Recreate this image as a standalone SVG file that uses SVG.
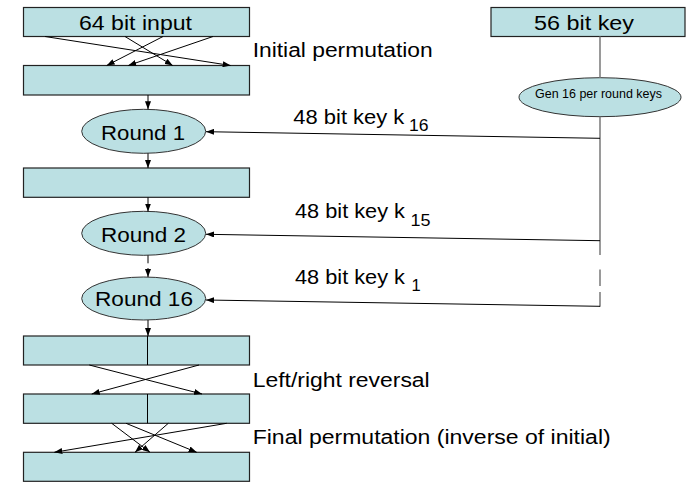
<svg xmlns="http://www.w3.org/2000/svg" width="686" height="482" viewBox="0 0 686 482">
<style>
.box{fill:#BBE0E3;stroke:#222;stroke-width:1.2}
.ell{fill:#BBE0E3;stroke:#333;stroke-width:1}
.t{font-family:"Liberation Sans",Arial,sans-serif;font-size:20px;fill:#000}
.ts{font-family:"Liberation Sans",Arial,sans-serif;font-size:16.5px;fill:#000}
.tg{font-family:"Liberation Sans",Arial,sans-serif;font-size:12px;fill:#000}
.ln{stroke:#000;stroke-width:1;fill:none}
.gl{stroke:#808080;stroke-width:1.6;fill:none}
</style>
<defs>
<marker id="ah" viewBox="0 0 8 6" refX="8" refY="3" markerWidth="8" markerHeight="6" markerUnits="userSpaceOnUse" orient="auto">
<path d="M0,0 L8,3 L0,6 z" fill="#000"/>
</marker>
</defs>

<g id="input">
<rect class="box" x="23.5" y="7.5" width="226" height="29"/>
<text class="t" x="79" y="29.5" textLength="113" lengthAdjust="spacingAndGlyphs">64 bit input</text>
</g>
<g id="ip">
<rect class="box" x="23.5" y="65.5" width="226" height="29.5"/>
</g>
<g id="round1">
<ellipse class="ell" cx="143.7" cy="131.3" rx="62" ry="22"/>
<text class="t" x="101" y="140" textLength="84" lengthAdjust="spacingAndGlyphs">Round 1</text>
</g>
<g id="mid">
<rect class="box" x="23.5" y="168" width="226" height="29.3"/>
</g>
<g id="round2">
<ellipse class="ell" cx="143.7" cy="233.3" rx="62" ry="22"/>
<text class="t" x="101" y="241.7" textLength="85" lengthAdjust="spacingAndGlyphs">Round 2</text>
</g>
<g id="round16">
<ellipse class="ell" cx="143.7" cy="298.5" rx="62" ry="21.5"/>
<text class="t" x="95" y="306" textLength="98" lengthAdjust="spacingAndGlyphs">Round 16</text>
</g>
<g id="lr1">
<rect class="box" x="23.5" y="336" width="226" height="29"/>
<line class="ln" x1="147.5" y1="336" x2="147.5" y2="365"/>
</g>
<g id="lr2">
<rect class="box" x="23.5" y="394" width="226" height="29.3"/>
<line class="ln" x1="147.5" y1="394" x2="147.5" y2="423.3"/>
</g>
<g id="output">
<rect class="box" x="23.5" y="452.3" width="226" height="29"/>
</g>
<g id="key">
<rect class="box" x="491" y="7.5" width="194" height="29"/>
<text class="t" x="534" y="29.5" textLength="100" lengthAdjust="spacingAndGlyphs">56 bit key</text>
</g>
<g id="gen">
<ellipse class="ell" cx="600" cy="97.2" rx="81" ry="19.5"/>
<text class="tg" x="535" y="97.5" textLength="127" lengthAdjust="spacingAndGlyphs">Gen 16 per round keys</text>
</g>

<g id="labels">
<text class="t" x="252.7" y="56.7" textLength="180" lengthAdjust="spacingAndGlyphs">Initial permutation</text>
<text class="t" x="252.7" y="386.7" textLength="177" lengthAdjust="spacingAndGlyphs">Left/right reversal</text>
<text class="t" x="252.7" y="444" textLength="358" lengthAdjust="spacingAndGlyphs">Final permutation (inverse of initial)</text>
<text class="t" x="293.3" y="124" textLength="111" lengthAdjust="spacingAndGlyphs">48 bit key k</text>
<text class="ts" x="409" y="131" textLength="19.5" lengthAdjust="spacingAndGlyphs">16</text>
<text class="t" x="295" y="218.3" textLength="110" lengthAdjust="spacingAndGlyphs">48 bit key k</text>
<text class="ts" x="410.5" y="225.5" textLength="20" lengthAdjust="spacingAndGlyphs">15</text>
<text class="t" x="295" y="284.3" textLength="110" lengthAdjust="spacingAndGlyphs">48 bit key k</text>
<text class="ts" x="411.5" y="291">1</text>
</g>

<g id="connectors">
<line class="ln" x1="45" y1="36.5" x2="230.7" y2="65.5" marker-end="url(#ah)"/>
<line class="ln" x1="125" y1="36.5" x2="172.7" y2="65.5" marker-end="url(#ah)"/>
<line class="ln" x1="163" y1="36.5" x2="106.7" y2="65.5" marker-end="url(#ah)"/>
<line class="ln" x1="213" y1="36.5" x2="128.3" y2="65.5" marker-end="url(#ah)"/>
<line class="ln" x1="148" y1="95" x2="148" y2="109.3" marker-end="url(#ah)"/>
<line class="ln" x1="148" y1="153.3" x2="148" y2="168" marker-end="url(#ah)"/>
<line class="ln" x1="148" y1="197.3" x2="148" y2="211.5" marker-end="url(#ah)"/>
<line class="ln" x1="148" y1="255.3" x2="148" y2="263.3"/>
<line class="ln" x1="148" y1="268" x2="148" y2="277" marker-end="url(#ah)"/>
<line class="ln" x1="148" y1="320" x2="148" y2="336" marker-end="url(#ah)"/>
<line class="ln" x1="89.3" y1="365" x2="202" y2="394" marker-end="url(#ah)"/>
<line class="ln" x1="199" y1="365" x2="91.7" y2="394" marker-end="url(#ah)"/>
<line class="ln" x1="111.7" y1="423.3" x2="150" y2="452.3" marker-end="url(#ah)"/>
<line class="ln" x1="126" y1="423.3" x2="196.7" y2="452.3" marker-end="url(#ah)"/>
<line class="ln" x1="168.3" y1="423.3" x2="135" y2="452.3" marker-end="url(#ah)"/>
<line class="ln" x1="226.7" y1="423.3" x2="54.3" y2="452.3" marker-end="url(#ah)"/>
<line class="gl" x1="600" y1="36.5" x2="600" y2="77.7"/>
<line class="gl" x1="600" y1="116.7" x2="600" y2="255"/>
<line class="gl" x1="600" y1="269.5" x2="600" y2="286"/>
<line class="gl" x1="600" y1="292" x2="600" y2="306.7"/>
<line class="ln" x1="600" y1="138.3" x2="206" y2="131.7" marker-end="url(#ah)"/>
<line class="ln" x1="600" y1="240.7" x2="206" y2="234.3" marker-end="url(#ah)"/>
<line class="ln" x1="600" y1="306.3" x2="206" y2="300" marker-end="url(#ah)"/>
</g>
</svg>
